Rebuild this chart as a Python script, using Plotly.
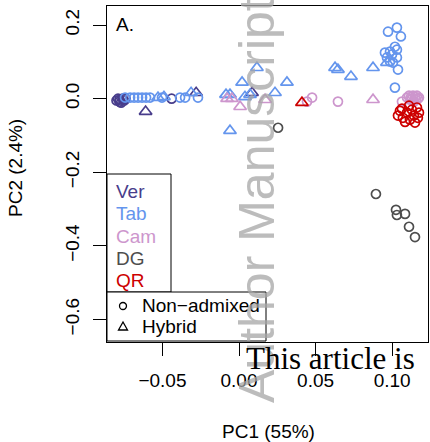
import plotly.graph_objects as go

# ---------------- data (PC1, PC2) ----------------
ver_circ_x = [-0.080, -0.079, -0.078, -0.076, -0.075, -0.074, -0.078, -0.077, -0.044]
ver_circ_y = [-0.005, 0.000, -0.003, 0.000, -0.005, 0.000, -0.008, -0.011, 0.000]
ver_tri_x = [-0.061, -0.028, 0.0085]
ver_tri_y = [-0.035, 0.016, 0.016]

tab_circ_x = [-0.0744, -0.0711, -0.0685, -0.0659, -0.0633, -0.0607, -0.0581, -0.0503, -0.0385, -0.0352, -0.0268,
              0.0973, 0.1031, 0.1057, 0.0986, 0.1018, 0.1031, 0.0953, 0.0999, 0.0966, 0.1031, 0.0986, 0.1005, 0.1038, 0.1018]
tab_circ_y = [0.003, 0.003, 0.003, 0.003, 0.003, 0.003, 0.003, 0.003, 0.003, 0.003, 0.003,
              0.182, 0.193, 0.169, 0.128, 0.141, 0.133, 0.125, 0.120, 0.112, 0.112, 0.101, 0.098, 0.079, 0.030]
tab_tri_x = [-0.0529, -0.049, -0.0313, -0.0085, -0.0059, 0.002, 0.0039, 0.0072, 0.0117, 0.0235, 0.0313, -0.0059,
             0.0627, 0.0646, 0.0731, 0.0875, 0.0966]
tab_tri_y = [0.003, 0.005, 0.016, 0.011, 0.011, 0.044, 0.005, 0.011, 0.084, 0.016, 0.044, -0.087,
             0.084, 0.079, 0.060, 0.084, 0.098]

cam_circ_x = [0.0444, 0.0477, 0.0646, 0.1064, 0.1097, 0.1116, 0.1129, 0.1149, 0.1168, 0.1142,
              0.1110, 0.1123, 0.1136, 0.1155, 0.1175, 0.1162]
cam_circ_y = [-0.008, 0.003, -0.008, -0.008, 0.003, -0.003, 0.000, 0.005, 0.000, -0.008,
              0.008, 0.005, 0.008, -0.003, 0.003, 0.008]
cam_tri_x = [-0.0078, -0.0046, 0.0007, 0.017, 0.0875]
cam_tri_y = [0.000, 0.000, -0.022, -0.003, -0.003]

dg_circ_x = [0.0255, 0.0894, 0.1025, 0.1031, 0.1084, 0.1110, 0.1149]
dg_circ_y = [-0.079, -0.259, -0.302, -0.316, -0.313, -0.348, -0.376]

qr_circ_x = [0.1038, 0.1064, 0.1070, 0.1097, 0.1116, 0.1129, 0.1142, 0.1162, 0.1175, 0.1084, 0.1149, 0.1051, 0.1110, 0.1168]
qr_circ_y = [-0.046, -0.027, -0.052, -0.038, -0.057, -0.030, -0.046, -0.024, -0.038, -0.063, -0.065, -0.033, -0.019, -0.052]
qr_tri_x = [0.0411]
qr_tri_y = [-0.011]

groups = ["Ver", "Tab", "Cam", "DG", "QR"]
colors = {"Ver": "#483D8B", "Tab": "#6495ED", "Cam": "#CD96CD", "DG": "#4D4D4D", "QR": "#CD0000"}
x_ticks = [-0.05, 0.00, 0.05, 0.10]
x_ticktext = ["\u22120.05", "0.00", "0.05", "0.10"]
y_ticks = [-0.6, -0.4, -0.2, 0.0, 0.2]
y_ticktext = ["\u22120.6", "\u22120.4", "\u22120.2", "0.0", "0.2"]

# ---------------- figure ----------------
W, H = 430, 442
ML, MR, MT, MB = 107, 2, 6, 100
PW, PH = W - ML - MR, H - MT - MB
FONT = "Liberation Sans, Arial, Helvetica, sans-serif"


def px_x(px):
    return (px - ML) / PW


def px_y(py):
    return (H - MB - py) / PH


fig = go.Figure()
series = [
    ("Ver", ver_circ_x, ver_circ_y, ver_tri_x, ver_tri_y),
    ("Tab", tab_circ_x, tab_circ_y, tab_tri_x, tab_tri_y),
    ("Cam", cam_circ_x, cam_circ_y, cam_tri_x, cam_tri_y),
    ("DG", dg_circ_x, dg_circ_y, [], []),
    ("QR", qr_circ_x, qr_circ_y, qr_tri_x, qr_tri_y),
]
for name, cx, cy, tx, ty in series:
    c = colors[name]
    fig.add_trace(go.Scatter(x=cx, y=cy, mode="markers", showlegend=False,
                             marker=dict(symbol="circle-open", size=9, color=c, line=dict(width=1.7, color=c))))
    if tx:
        fig.add_trace(go.Scatter(x=tx, y=ty, mode="markers", showlegend=False,
                                 marker=dict(symbol="triangle-up-open", size=11, color=c,
                                             line=dict(width=1.7, color=c))))

ax_common = dict(showline=True, linecolor="black", linewidth=1, mirror=True, ticks="outside",
                 ticklen=13, tickcolor="black", tickwidth=1, showgrid=False, zeroline=False,
                 tickfont=dict(family=FONT, size=19, color="black"), automargin=False)
fig.update_xaxes(range=[-0.0862, 0.1234], tickvals=x_ticks, ticktext=x_ticktext,
                 ticklabelstandoff=8, **ax_common)
fig.update_yaxes(range=[-0.661, 0.2517], tickvals=y_ticks, ticktext=y_ticktext, tickangle=-90,
                 ticklabelstandoff=6, **ax_common)

shapes = [
    dict(type="rect", xref="paper", yref="paper", x0=px_x(107), x1=px_x(171), y0=px_y(292), y1=px_y(174),
         line=dict(color="black", width=1), fillcolor="white", layer="above"),
    dict(type="rect", xref="paper", yref="paper", x0=px_x(107), x1=px_x(266), y0=px_y(341), y1=px_y(292),
         line=dict(color="black", width=1), fillcolor="white", layer="above"),
    dict(type="circle", xref="paper", yref="paper", x0=px_x(119.5), x1=px_x(126.5), y0=px_y(309.5), y1=px_y(302.5),
         line=dict(color="black", width=1.3)),
    dict(type="path", xref="paper", yref="paper",
         path=f"M {px_x(118.5)} {px_y(330)} L {px_x(127.5)} {px_y(330)} L {px_x(123)} {px_y(322)} Z",
         line=dict(color="black", width=1.3)),
]

ann = []


def add_text(text, px, py, size=19, color="black", xanchor="left", yanchor="middle", angle=0, family=FONT):
    ann.append(dict(text=text, xref="paper", yref="paper", x=px_x(px), y=px_y(py), showarrow=False,
                    xanchor=xanchor, yanchor=yanchor, textangle=angle,
                    font=dict(family=family, size=size, color=color)))


add_text("A.", 114, 24)
leg_y = [191, 213, 236, 258, 280]
for g, yy in zip(groups, leg_y):
    add_text(g, 114, yy, color=colors[g])
add_text("Non\u2212admixed", 140, 305)
add_text("Hybrid", 140, 326)
add_text("PC1 (55%)", 268, 431, xanchor="center")
add_text("PC2 (2.4%)", 16, 168, xanchor="center", angle=-90)
# watermark-like overlay texts
add_text("Author Manuscript", 257, 200, size=50, color="rgba(165,165,165,0.75)", xanchor="center", angle=-90)
add_text("This article is", 244, 358, size=31, color="black", family="Liberation Serif, Times New Roman, serif")

fig.update_layout(width=W, height=H, margin=dict(l=ML, r=MR, t=MT, b=MB, autoexpand=False),
                  paper_bgcolor="white", plot_bgcolor="white", shapes=shapes, annotations=ann,
                  font=dict(family=FONT))
fig.write_html("out.html", config={"displayModeBar": False},
               post_script="document.body.style.margin='0';")
